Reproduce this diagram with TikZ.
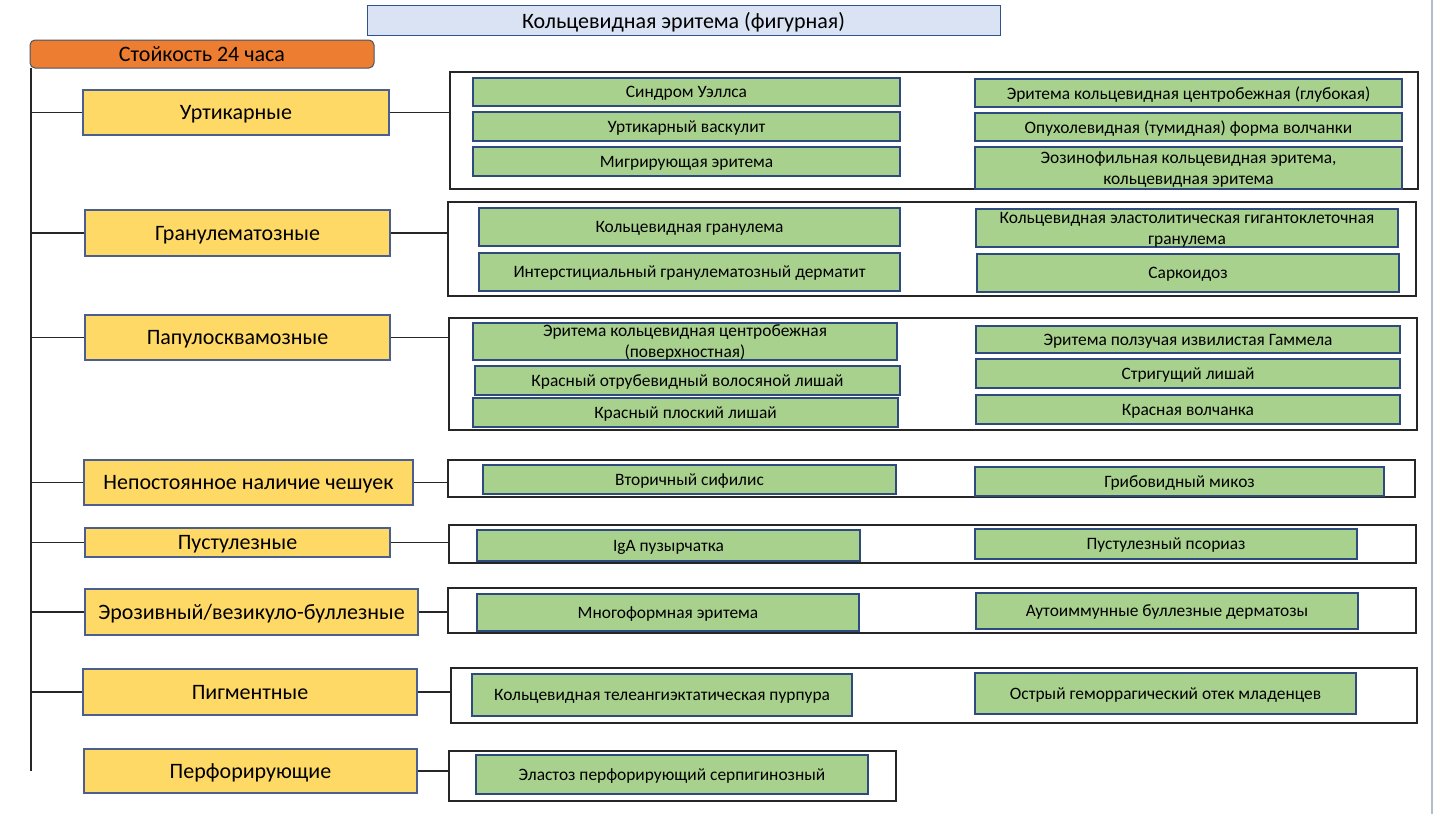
\documentclass[tikz,border=0pt]{standalone}
\usepackage{fontspec}
\setmainfont{Carlito}
\usetikzlibrary{fit}

\definecolor{titlefill}{HTML}{DAE3F3}
\definecolor{titleline}{HTML}{2F528F}
\definecolor{orangefill}{HTML}{ED7D31}
\definecolor{orangeline}{HTML}{44546A}
\definecolor{catfill}{HTML}{FFD966}
\definecolor{catline}{HTML}{4A5F8F}
\definecolor{itemfill}{HTML}{A9D18E}
\definecolor{itemline}{HTML}{2F4A7F}
\definecolor{groupline}{HTML}{262626}
\definecolor{edgegray}{HTML}{B4BCCA}

\begin{document}
\begin{tikzpicture}[x=1pt,y=-1pt,
  titlebox/.style={draw=titleline, fill=titlefill, line width=1pt, inner sep=0pt},
  titletext/.style={font=\fontsize{22}{26}\selectfont, inner sep=0pt, text depth=0pt},
  timebox/.style={draw=orangeline, fill=orangefill, line width=1pt, rounded corners=5pt,
    inner sep=0pt},
  cattext/.style={font=\fontsize{22}{26}\selectfont, inner sep=0pt, text depth=0pt},
  catbox/.style={draw=catline, fill=catfill, line width=1.2pt, inner sep=0pt},
  groupbox/.style={draw=groupline, line width=1.3pt, inner sep=0pt},
  itembox/.style={draw=itemline, fill=itemfill, line width=1.3pt, inner sep=0pt},
  itemtext/.style={align=center, inner sep=0pt, text depth=0pt,
    font=\fontsize{17.4}{21}\selectfont},
  link/.style={draw=groupline, line width=1.3pt}]

\useasboundingbox (0,0) rectangle (1433,814);
\draw[edgegray, line width=1.5pt] (1432,0) -- (1432,814); % slide edge

% Header
\node[titlebox, fit={(367,5) (1000,35)},
  label={[titletext]center:Кольцевидная эритема (фигурная)}] (title) {};
\node[timebox, fit={(30,40) (374,68)},
  label={[cattext]center:Стойкость 24 часа}] (time) {};

% Categories
\node[catbox, fit={(83,90) (389,135)}, label={[cattext]center:Уртикарные}] (urt) {};
\node[catbox, fit={(85,210) (390,256)}, label={[cattext]center:Гранулематозные}] (gran) {};
\node[catbox, fit={(85,315) (390,360)}, label={[cattext]center:Папулосквамозные}] (pap) {};
\node[catbox, fit={(84,460) (413,505)}, label={[cattext]center:Непостоянное наличие чешуек}] (scal) {};
\node[catbox, fit={(85,528) (390,557)}, label={[cattext]center:Пустулезные}] (pust) {};
\node[catbox, fit={(85,589) (418,635)}, label={[cattext]center:Эрозивный/везикуло-буллезные}] (eros) {};
\node[catbox, fit={(83,669) (417,715)}, label={[cattext]center:Пигментные}] (pigm) {};
\node[catbox, fit={(84,749) (417,793)}, label={[cattext]center:Перфорирующие}] (perf) {};

% Group frames
\node[groupbox, fit={(450,72) (1418,189)}] (g1) {};
\node[groupbox, fit={(448,202) (1416,296)}] (g2) {};
\node[groupbox, fit={(449,318) (1417,430)}] (g3) {};
\node[groupbox, fit={(448,460) (1415,497)}] (g4) {};
\node[groupbox, fit={(449,525) (1416,563)}] (g5) {};
\node[groupbox, fit={(448,588) (1416,633)}] (g6) {};
\node[groupbox, fit={(451,668) (1417,723)}] (g7) {};
\node[groupbox, fit={(449,751) (896,801)}] (g8) {};

% Urticarial
\node[itembox, fit={(473,78) (900,106)}, label={[itemtext]center:Синдром Уэллса}] (u1) {};
\node[itembox, fit={(473,112) (900,141)}, label={[itemtext]center:Уртикарный васкулит}] (u2) {};
\node[itembox, fit={(473,147) (900,176)}, label={[itemtext]center:Мигрирующая эритема}] (u3) {};
\node[itembox, fit={(975,79) (1402,107)},
  label={[itemtext]center:Эритема кольцевидная центробежная (глубокая)}] (u4) {};
\node[itembox, fit={(975,113) (1402,141)},
  label={[itemtext]center:Опухолевидная (тумидная) форма волчанки}] (u5) {};
\node[itembox, fit={(975,147) (1402,189)},
  label={[itemtext]center:Эозинофильная кольцевидная эритема,\\кольцевидная эритема}] (u6) {};

% Granulomatous
\node[itembox, fit={(479,208) (900,246)}, label={[itemtext]center:Кольцевидная гранулема}] (r1) {};
\node[itembox, fit={(479,253) (900,291)},
  label={[itemtext]center:Интерстициальный гранулематозный дерматит}] (r2) {};
\node[itembox, fit={(976,209) (1398,247)},
  label={[itemtext]center:Кольцевидная эластолитическая гигантоклеточная\\гранулема}] (r3) {};
\node[itembox, fit={(977,254) (1399,292)}, label={[itemtext]center:Саркоидоз}] (r4) {};

% Papulosquamous
\node[itembox, fit={(473,323) (897,360)},
  label={[itemtext]center:Эритема кольцевидная центробежная\\(поверхностная)}] (p1) {};
\node[itembox, fit={(475,366) (900,395)},
  label={[itemtext]center:Красный отрубевидный волосяной лишай}] (p2) {};
\node[itembox, fit={(473,398) (898,427)}, label={[itemtext]center:Красный плоский лишай}] (p3) {};
\node[itembox, fit={(976,326) (1400,353)},
  label={[itemtext]center:Эритема ползучая извилистая Гаммела}] (p4) {};
\node[itembox, fit={(976,359) (1400,388)}, label={[itemtext]center:Стригущий лишай}] (p5) {};
\node[itembox, fit={(976,395) (1400,424)}, label={[itemtext]center:Красная волчанка}] (p6) {};

% Remaining groups
\node[itembox, fit={(483,465) (896,494)}, label={[itemtext]center:Вторичный сифилис}] (s1) {};
\node[itembox, fit={(975,467) (1384,496)}, label={[itemtext]center:Грибовидный микоз}] (s2) {};
\node[itembox, fit={(477,530) (860,561)}, label={[itemtext]center:IgA пузырчатка}] (t1) {};
\node[itembox, fit={(975,529) (1357,559)}, label={[itemtext]center:Пустулезный псориаз}] (t2) {};
\node[itembox, fit={(477,594) (859,631)}, label={[itemtext]center:Многоформная эритема}] (e1) {};
\node[itembox, fit={(976,593) (1358,629)},
  label={[itemtext]center:Аутоиммунные буллезные дерматозы}] (e2) {};
\node[itembox, fit={(472,674) (852,716)},
  label={[itemtext]center:Кольцевидная телеангиэктатическая пурпура}] (m1) {};
\node[itembox, fit={(975,673) (1356,714)},
  label={[itemtext]center:Острый геморрагический отек младенцев}] (m2) {};
\node[itembox, fit={(476,755) (868,794)},
  label={[itemtext]center:Эластоз перфорирующий серпигинозный}] (f1) {};

% Spine
\coordinate (top) at (31,68);
\draw[link] (top) -- (perf.west -| top);
\draw[link] (urt.west -| top) -- (urt.west);
\draw[link] (gran.west -| top) -- (gran.west);
\draw[link] (pap.west -| top) -- (pap.west);
\draw[link] (scal.west -| top) -- (scal.west);
\draw[link] (pust.west -| top) -- (pust.west);
\draw[link] (eros.west -| top) -- (eros.west);
\draw[link] (pigm.west -| top) -- (pigm.west);

% Category to frame
\draw[link] (urt.east) -- (urt.east -| g1.west);
\draw[link] (gran.east) -- (gran.east -| g2.west);
\draw[link] (pap.east) -- (pap.east -| g3.west);
\draw[link] (scal.east) -- (scal.east -| g4.west);
\draw[link] (pust.east) -- (pust.east -| g5.west);
\draw[link] (eros.east) -- (eros.east -| g6.west);
\draw[link] (pigm.east) -- (pigm.east -| g7.west);
\draw[link] (perf.east) -- (perf.east -| g8.west);

\end{tikzpicture}
\end{document}
